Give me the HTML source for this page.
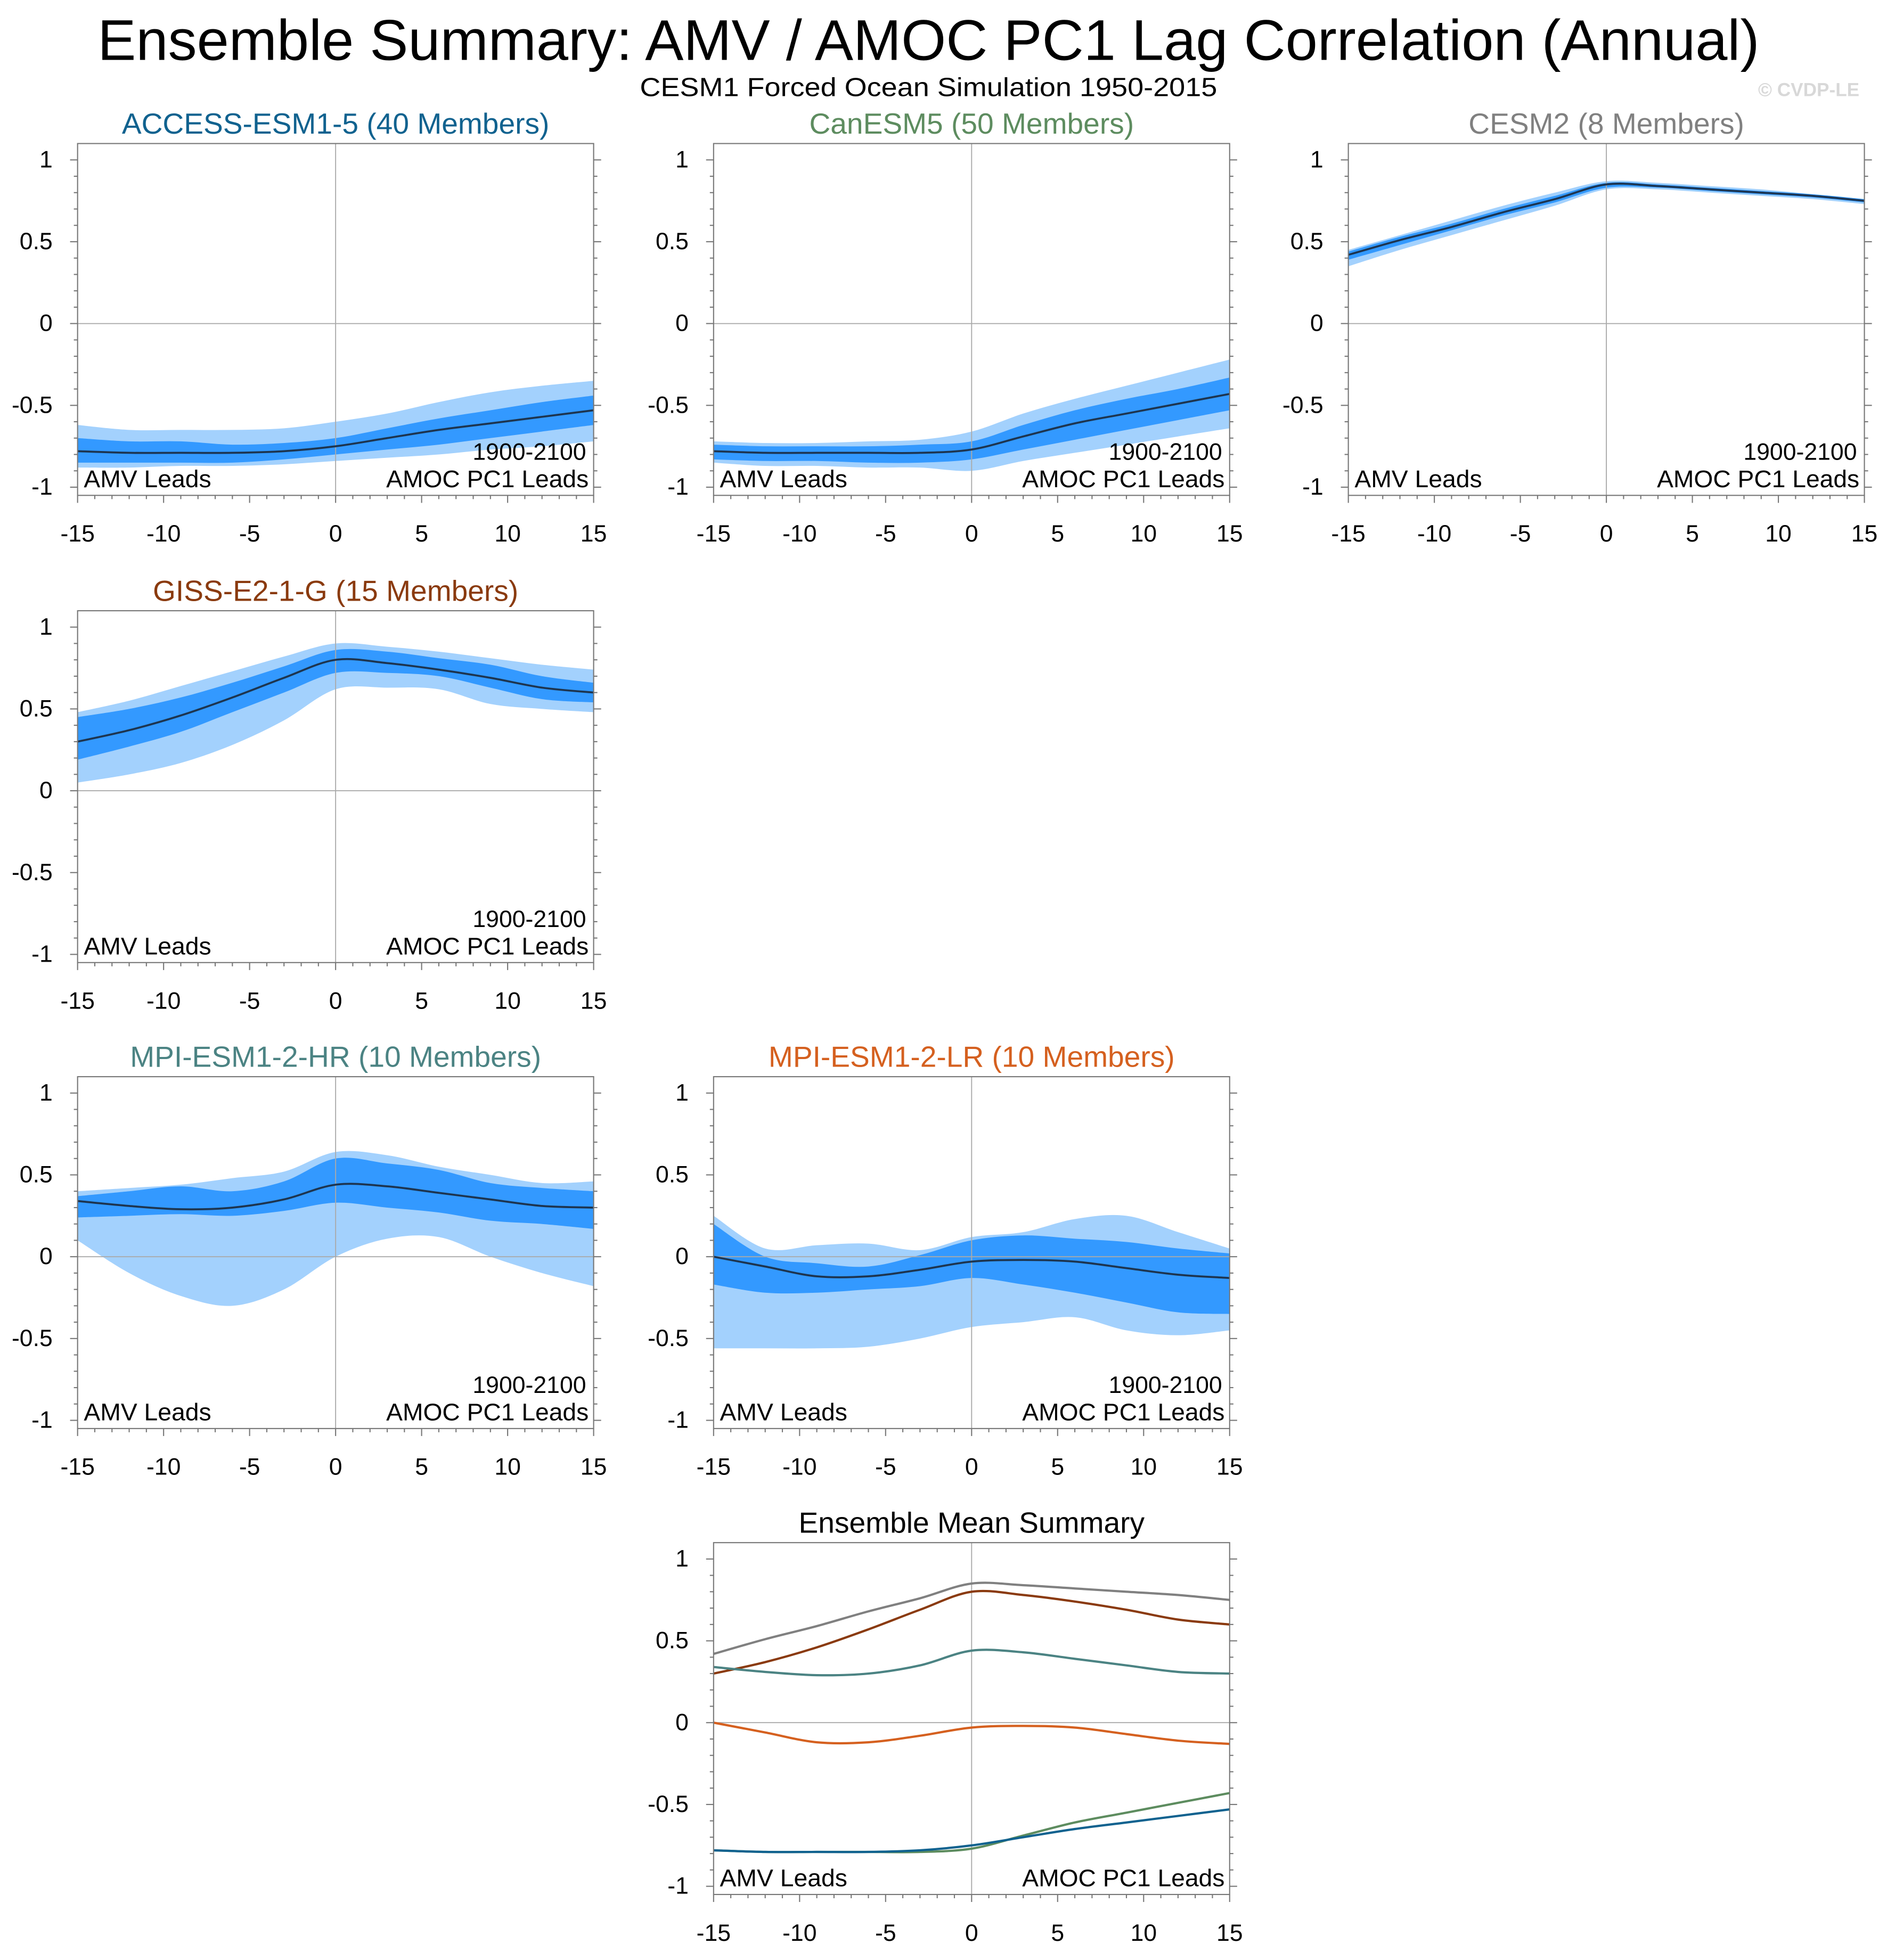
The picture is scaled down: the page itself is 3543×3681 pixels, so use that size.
<!DOCTYPE html>
<html><head><meta charset="utf-8">
<style>
html,body{margin:0;padding:0;background:#fff;}
svg{display:block;font-family:"Liberation Sans",Arial,sans-serif;}
</style></head>
<body>
<svg id="fig" width="3543" height="3681" viewBox="0 0 1510 1569" xmlns="http://www.w3.org/2000/svg">
<text x="743" y="48" font-size="46" text-anchor="middle" fill="#000" textLength="1330" lengthAdjust="spacingAndGlyphs">Ensemble Summary: AMV / AMOC PC1 Lag Correlation (Annual)</text>
<text x="743" y="77" font-size="21" text-anchor="middle" fill="#000" textLength="462" lengthAdjust="spacingAndGlyphs">CESM1 Forced Ocean Simulation 1950-2015</text>
<text x="1488" y="77" font-size="15" font-weight="bold" text-anchor="end" fill="#d8d8d8">© CVDP-LE</text>
</svg>
<script>
const lags = [-15,-12,-9,-6,-3,0,3,6,9,12,15];
const xTicks = [-15,-10,-5,0,5,10,15];
const yTicks = [1,0.5,0,-0.5,-1];
const yTickLabels = ["1","0.5","0","-0.5","-1"];

const accessMean = [-0.78,-0.79,-0.79,-0.79,-0.78,-0.75,-0.70,-0.65,-0.61,-0.57,-0.53];
const accessDarkHi = [-0.70,-0.72,-0.72,-0.74,-0.73,-0.70,-0.64,-0.58,-0.53,-0.48,-0.44];
const accessDarkLo = [-0.85,-0.85,-0.85,-0.85,-0.83,-0.80,-0.77,-0.74,-0.70,-0.66,-0.62];
const accessLightHi = [-0.62,-0.65,-0.65,-0.65,-0.64,-0.60,-0.55,-0.48,-0.42,-0.38,-0.35];
const accessLightLo = [-0.88,-0.88,-0.87,-0.87,-0.86,-0.84,-0.82,-0.80,-0.77,-0.75,-0.72];

const canMean = [-0.78,-0.79,-0.79,-0.79,-0.79,-0.77,-0.69,-0.61,-0.55,-0.49,-0.43];
const canDarkHi = [-0.74,-0.75,-0.75,-0.75,-0.74,-0.72,-0.62,-0.53,-0.46,-0.40,-0.33];
const canDarkLo = [-0.83,-0.84,-0.84,-0.85,-0.85,-0.83,-0.77,-0.71,-0.65,-0.59,-0.53];
const canLightHi = [-0.72,-0.73,-0.73,-0.72,-0.71,-0.66,-0.55,-0.46,-0.38,-0.30,-0.22];
const canLightLo = [-0.85,-0.87,-0.87,-0.88,-0.88,-0.90,-0.84,-0.79,-0.74,-0.69,-0.64];

const cesmMean = [0.42,0.51,0.59,0.68,0.76,0.85,0.84,0.82,0.80,0.78,0.75];
const cesmDarkHi = [0.44,0.53,0.61,0.70,0.78,0.86,0.85,0.83,0.81,0.79,0.76];
const cesmDarkLo = [0.39,0.48,0.57,0.66,0.74,0.83,0.83,0.81,0.79,0.77,0.74];
const cesmLightHi = [0.45,0.54,0.63,0.72,0.80,0.87,0.86,0.84,0.82,0.79,0.76];
const cesmLightLo = [0.35,0.45,0.54,0.63,0.72,0.82,0.82,0.80,0.78,0.76,0.73];

const gissMean = [0.30,0.37,0.46,0.57,0.69,0.80,0.78,0.74,0.69,0.63,0.60];
const gissDarkHi = [0.45,0.50,0.57,0.66,0.76,0.86,0.85,0.81,0.77,0.70,0.66];
const gissDarkLo = [0.19,0.27,0.36,0.48,0.60,0.72,0.72,0.70,0.63,0.56,0.54];
const gissLightHi = [0.48,0.55,0.64,0.73,0.82,0.90,0.88,0.85,0.81,0.77,0.74];
const gissLightLo = [0.05,0.10,0.17,0.28,0.43,0.62,0.63,0.62,0.53,0.50,0.48];

const hrMean = [0.34,0.31,0.29,0.30,0.35,0.44,0.43,0.39,0.35,0.31,0.30];
const hrDarkHi = [0.37,0.40,0.43,0.40,0.46,0.60,0.57,0.53,0.45,0.42,0.40];
const hrDarkLo = [0.24,0.25,0.26,0.25,0.28,0.33,0.30,0.27,0.22,0.20,0.17];
const hrLightHi = [0.40,0.42,0.44,0.48,0.52,0.64,0.62,0.55,0.50,0.45,0.46];
const hrLightLo = [0.10,-0.10,-0.24,-0.30,-0.20,0.00,0.11,0.12,0.00,-0.10,-0.18];

const lrMean = [0.00,-0.06,-0.12,-0.12,-0.08,-0.03,-0.02,-0.03,-0.07,-0.11,-0.13];
const lrDarkHi = [0.20,0.00,-0.04,-0.06,0.01,0.10,0.13,0.11,0.09,0.05,0.02];
const lrDarkLo = [-0.17,-0.22,-0.22,-0.20,-0.18,-0.13,-0.17,-0.22,-0.28,-0.34,-0.35];
const lrLightHi = [0.25,0.05,0.07,0.08,0.04,0.12,0.15,0.23,0.25,0.15,0.05];
const lrLightLo = [-0.56,-0.56,-0.56,-0.55,-0.50,-0.43,-0.40,-0.37,-0.45,-0.48,-0.45];

const NS = "http://www.w3.org/2000/svg";
const svg = document.getElementById('fig');
function mk(tag, attrs, parent){const e=document.createElementNS(NS,tag);for(const k in attrs)e.setAttribute(k,attrs[k]);(parent||svg).appendChild(e);return e;}

const colX = [62,571,1079];
const rowY1 = [128,502,875,1248];
const W = 413, PPU = 131;

function smoothPath(pts, move){
  let d = (move?"M":"L")+pts[0][0].toFixed(2)+","+pts[0][1].toFixed(2);
  for(let i=0;i<pts.length-1;i++){
    const p0=pts[Math.max(0,i-1)],p1=pts[i],p2=pts[i+1],p3=pts[Math.min(pts.length-1,i+2)];
    const c1=[p1[0]+(p2[0]-p0[0])/6,p1[1]+(p2[1]-p0[1])/6];
    const c2=[p2[0]-(p3[0]-p1[0])/6,p2[1]-(p3[1]-p1[1])/6];
    d+=` C${c1[0].toFixed(2)},${c1[1].toFixed(2)} ${c2[0].toFixed(2)},${c2[1].toFixed(2)} ${p2[0].toFixed(2)},${p2[1].toFixed(2)}`;
  }
  return d;
}

function panel(col,row,title,color,bands,mean,lines,showPeriod,name){
  const x0=colX[col], y1=rowY1[row];
  const sx=v=>x0+(v+15)/30*W;
  const sy=v=>y1+(1-v)*PPU;
  const g=mk('g',{});
  
  
  const top=sy(1.1), bot=sy(-1.05);
  const t=mk('text',{x:x0+W/2,y:y1-21,'font-size':23.5,'text-anchor':'middle',fill:color},g);
  t.textContent=title;
  
  
  if(bands){
    bands.forEach(([hi,lo,fill],bi)=>{
      const up=lags.map((l,i)=>[sx(l),sy(hi[i])]);
      const dn=lags.map((l,i)=>[sx(l),sy(lo[i])]).reverse();
      const p=mk('path',{d:smoothPath(up,true)+" "+smoothPath(dn,false)+" Z",fill:fill,stroke:'none'},g);
      
      
    });
  }
  mk('line',{x1:sx(0),x2:sx(0),y1:top,y2:bot,stroke:'#aaa','stroke-width':0.8},g);
  mk('line',{x1:x0,x2:x0+W,y1:sy(0),y2:sy(0),stroke:'#aaa','stroke-width':0.8},g);
  if(mean){
    const p=mk('path',{d:smoothPath(lags.map((l,i)=>[sx(l),sy(mean[i])]),true),fill:'none',stroke:'#1d3550','stroke-width':1.6},g);
    
    
  }
  if(lines){
    lines.forEach(([vals,c,nm])=>{
      const p=mk('path',{d:smoothPath(lags.map((l,i)=>[sx(l),sy(vals[i])]),true),fill:'none',stroke:c,'stroke-width':1.8},g);
      
      
    });
  }
  mk('rect',{x:x0,y:top,width:W,height:bot-top,fill:'none',stroke:'#777','stroke-width':0.9},g);
  for(let v=-1;v<=1.0001;v+=0.1){
    const major=Math.abs(Math.round(v*2)-v*2)<1e-6;
    const len=major?6:3;
    mk('line',{x1:x0-len,x2:x0,y1:sy(v),y2:sy(v),stroke:'#777','stroke-width':0.9},g);
    mk('line',{x1:x0+W,x2:x0+W+len,y1:sy(v),y2:sy(v),stroke:'#777','stroke-width':0.9},g);
  }
  yTicks.forEach((v,i)=>{
    const tx=mk('text',{x:x0-20,y:sy(v)+6,'font-size':19,'text-anchor':'end',fill:'#000'},g);
    tx.textContent=yTickLabels[i];
    
    
  });
  for(let v=-15;v<=15;v++){
    const major=v%5===0;
    const len=major?6:3;
    mk('line',{x1:sx(v),x2:sx(v),y1:bot,y2:bot+len,stroke:'#777','stroke-width':0.9},g);
  }
  xTicks.forEach(v=>{
    const tx=mk('text',{x:sx(v),y:bot+37,'font-size':19,'text-anchor':'middle',fill:'#000'},g);
    tx.textContent=String(v);
    
    
  });
  const a=mk('text',{x:x0+5,y:sy(-1)-0,'font-size':19.5,fill:'#000',textLength:102,lengthAdjust:'spacingAndGlyphs'},g);a.textContent='AMV Leads';
  
  
  const b=mk('text',{x:x0+W-4,y:sy(-1)-0,'font-size':19.5,'text-anchor':'end',fill:'#000',textLength:162,lengthAdjust:'spacingAndGlyphs'},g);b.textContent='AMOC PC1 Leads';
  
  
  if(showPeriod){
    const c=mk('text',{x:x0+W-6,y:sy(-1)-22,'font-size':19,'text-anchor':'end',fill:'#000'},g);c.textContent='1900-2100';
    
    
  }
}
const LIGHT='#a3d1fd', DARK='#3399ff';
panel(0,0,'ACCESS-ESM1-5 (40 Members)','#10628f',[[accessLightHi,accessLightLo,LIGHT],[accessDarkHi,accessDarkLo,DARK]],accessMean,null,true,'access-panel');
panel(1,0,'CanESM5 (50 Members)','#5d8c5f',[[canLightHi,canLightLo,LIGHT],[canDarkHi,canDarkLo,DARK]],canMean,null,true,'canesm5-panel');
panel(2,0,'CESM2 (8 Members)','#808080',[[cesmLightHi,cesmLightLo,LIGHT],[cesmDarkHi,cesmDarkLo,DARK]],cesmMean,null,true,'cesm2-panel');
panel(0,1,'GISS-E2-1-G (15 Members)','#8a3a0e',[[gissLightHi,gissLightLo,LIGHT],[gissDarkHi,gissDarkLo,DARK]],gissMean,null,true,'giss-panel');
panel(0,2,'MPI-ESM1-2-HR (10 Members)','#4b8383',[[hrLightHi,hrLightLo,LIGHT],[hrDarkHi,hrDarkLo,DARK]],hrMean,null,true,'mpi-hr-panel');
panel(1,2,'MPI-ESM1-2-LR (10 Members)','#d5601f',[[lrLightHi,lrLightLo,LIGHT],[lrDarkHi,lrDarkLo,DARK]],lrMean,null,true,'mpi-lr-panel');
panel(1,3,'Ensemble Mean Summary','#000',null,null,[
  [cesmMean,'#808080','cesm2-mean-line'],
  [gissMean,'#8a3a0e','giss-mean-line'],
  [hrMean,'#4b8383','mpi-hr-mean-line'],
  [lrMean,'#d5601f','mpi-lr-mean-line'],
  [canMean,'#5d8c5f','canesm5-mean-line'],
  [accessMean,'#10628f','access-mean-line']
],false,'summary-panel');
</script>
</body></html>
